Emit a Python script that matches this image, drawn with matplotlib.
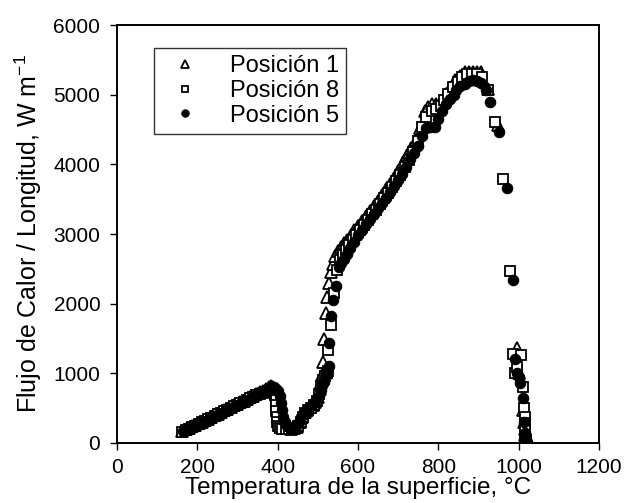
import matplotlib
matplotlib.use("Agg")
import matplotlib.pyplot as plt

plt.rcParams['font.family'] = ['Liberation Sans', 'DejaVu Sans']
plt.rcParams['mathtext.default'] = 'regular'

# ---------------- data ----------------
temp_pos1 = [163, 171, 179, 187, 195, 203, 211, 219, 227, 235, 243, 251, 259, 267, 275,
             283, 291, 299, 307, 315, 323, 331, 339, 347, 355, 363, 371, 378, 384, 389,
             394, 398, 402, 406, 411, 417, 424, 432, 440, 448, 455, 461, 467, 473, 480,
             487, 494, 500, 505, 508, 510, 513, 516, 520, 524, 528, 533, 537, 543, 550,
             557, 565, 573, 582, 591, 600, 610, 620, 630, 640, 650, 660, 670, 680, 690,
             700, 712, 722, 733, 744, 755, 766, 775, 783, 793, 803, 812, 820, 830, 841,
             853, 866, 877, 887, 897, 907, 924, 948, 995, 1000, 1012, 1014, 1015, 1016,
             1017, 1018]
flux_pos1 = [175, 195, 215, 240, 260, 285, 305, 330, 350, 375, 400, 420, 445, 470, 490,
             515, 540, 560, 585, 605, 630, 655, 680, 700, 725, 750, 775, 800, 815, 800,
             760, 680, 560, 430, 320, 250, 215, 205, 210, 230, 300, 380, 440, 480, 510,
             540, 590, 660, 780, 880, 970, 1160, 1500, 1870, 2100, 2300, 2450, 2570, 2680, 2760,
             2820, 2870, 2920, 2990, 3060, 3120, 3190, 3260, 3330, 3400, 3480, 3560, 3640, 3720, 3810,
             3900, 4040, 4130, 4230, 4350, 4520, 4760, 4820, 4860, 4860, 4870, 4930, 5010, 5100, 5210,
             5270, 5330, 5320, 5330, 5320, 5330, 5080, 4560, 1360, 1000, 470, 300, 200, 120,
             60, 20]

temp_pos8 = [163, 171, 179, 187, 195, 203, 211, 219, 227, 235, 243, 251, 259, 267, 275,
             283, 291, 299, 307, 315, 323, 331, 339, 347, 355, 363, 371, 378, 385, 390,
             393, 395, 396, 397, 398, 399, 401, 405, 412, 420, 428, 436, 444, 451, 457,
             463, 469, 476, 483, 490, 497, 503, 508, 513, 518, 522, 525, 526, 532, 541,
             548, 555, 562, 570, 578, 587, 596, 605, 615, 625, 635, 645, 655, 665, 675,
             685, 695, 705, 716, 727, 738, 749, 760, 770, 783, 795, 806, 815, 825, 836,
             848, 860, 872, 884, 896, 908, 924, 940, 962, 978, 987, 992, 995, 1005, 1010,
             1014, 1015, 1016, 1016, 1017, 1018, 1019]
flux_pos8 = [165, 185, 205, 230, 250, 275, 295, 320, 340, 365, 390, 410, 435, 455, 480,
             500, 525, 545, 570, 590, 615, 640, 660, 685, 705, 720, 730, 740, 745, 730,
             690, 620, 540, 460, 380, 300, 240, 210, 200, 195, 200, 205, 215, 240, 300,
             370, 430, 470, 500, 540, 600, 700, 820, 900, 960, 1000, 1030, 1330, 1690, 2160,
             2480, 2620, 2700, 2770, 2840, 2910, 2980, 3060, 3130, 3200, 3280, 3350, 3430, 3510, 3590,
             3670, 3760, 3850, 3960, 4060, 4180, 4330, 4540, 4680, 4760, 4800, 4840, 4930, 5010, 5110,
             5180, 5250, 5290, 5300, 5290, 5250, 5070, 4610, 3790, 2470, 1280, 1000, 1090, 1260, 800,
             500, 380, 280, 180, 100, 40, 10]

temp_pos5 = [165, 173, 181, 189, 197, 205, 213, 221, 229, 237, 245, 253, 261, 269, 277,
             285, 293, 301, 309, 317, 325, 333, 341, 349, 357, 365, 373, 380, 386, 392,
             397, 401, 405, 408, 411, 414, 418, 423, 430, 438, 446, 452, 458, 465, 472,
             479, 486, 493, 499, 503, 507, 511, 516, 520, 524, 528, 529, 532, 538, 545,
             552, 558, 565, 573, 581, 590, 600, 610, 620, 630, 640, 650, 660, 670, 680,
             690, 700, 710, 720, 730, 740, 750, 760, 770, 780, 791, 800, 808, 818, 828,
             838, 845, 855, 866, 877, 887, 897, 907, 918, 928, 950, 970, 985, 990, 996,
             1000, 1003, 1010, 1014, 1016, 1018, 1020]
flux_pos5 = [170, 190, 210, 235, 255, 280, 300, 320, 345, 370, 390, 415, 435, 460, 485,
             505, 530, 550, 575, 600, 620, 645, 670, 690, 715, 740, 770, 790, 810, 800,
             780, 740, 670, 580, 480, 380, 300, 240, 215, 210, 240, 300, 370, 430, 470,
             500, 540, 590, 640, 680, 760, 830, 880, 960, 1040, 1110, 1430, 1830, 2050, 2260,
             2520, 2580, 2640, 2720, 2800, 2880, 2980, 3060, 3140, 3210, 3290, 3370, 3450, 3520, 3600,
             3690, 3770, 3860, 3960, 4070, 4160, 4260, 4400, 4520, 4540, 4540, 4650, 4760, 4860, 4940,
             5000, 5070, 5120, 5160, 5200, 5210, 5190, 5170, 5060, 4900, 4460, 3660, 2340, 1210, 1000,
             950, 860, 640, 300, 150, 50, 10]

labels = ["Posición 1", "Posición 8", "Posición 5"]
x_ticks = [0, 200, 400, 600, 800, 1000, 1200]
y_ticks = [0, 1000, 2000, 3000, 4000, 5000, 6000]
x_label = "Temperatura de la superficie, °C"
y_label = "Flujo de Calor / Longitud, W m$^{-1}$"

# ---------------- figure ----------------
fig = plt.figure(figsize=(6.25, 5.03), dpi=100)
ax = fig.add_axes([117/625, 1 - 443/503, (599-117)/625, (443-25)/503])

h1, = ax.plot(temp_pos1, flux_pos1, linestyle='none', marker='^', markersize=8,
              markerfacecolor='white', markeredgecolor='black', markeredgewidth=1.3,
              label=labels[0], zorder=3)
h8, = ax.plot(temp_pos8, flux_pos8, linestyle='none', marker='s', markersize=7,
              markerfacecolor='white', markeredgecolor='black', markeredgewidth=1.3,
              label=labels[1], zorder=3)
h5, = ax.plot(temp_pos5, flux_pos5, linestyle='none', marker='o', markersize=7.5,
              markerfacecolor='black', markeredgecolor='black', markeredgewidth=0.8,
              label=labels[2], zorder=4)

ax.set_xlim(0, 1200)
ax.set_ylim(0, 6000)
ax.set_xticks(x_ticks)
ax.set_yticks(y_ticks)
ax.tick_params(direction='out', length=5, width=1, labelsize=15, colors='black')
ax.tick_params(axis='x', pad=6)
ax.tick_params(axis='y', pad=7)
for s in ax.spines.values():
    s.set_linewidth(1.4)
    s.set_color('black')

ax.set_xlabel(x_label, fontsize=17.5, labelpad=0)
ax.set_ylabel(y_label, fontsize=18, labelpad=7)

leg = ax.legend(handles=[h1, h8, h5], loc='upper left',
                bbox_to_anchor=((154-117)/482, (443-48)/418),
                borderaxespad=0, frameon=True, fancybox=False, edgecolor='black',
                fontsize=17, numpoints=1, handlelength=2.0, handletextpad=0.9,
                labelspacing=0.12, borderpad=0.3, markerscale=0.7)
leg.get_frame().set_linewidth(1.0)

fig.savefig("out.png", dpi=100)
